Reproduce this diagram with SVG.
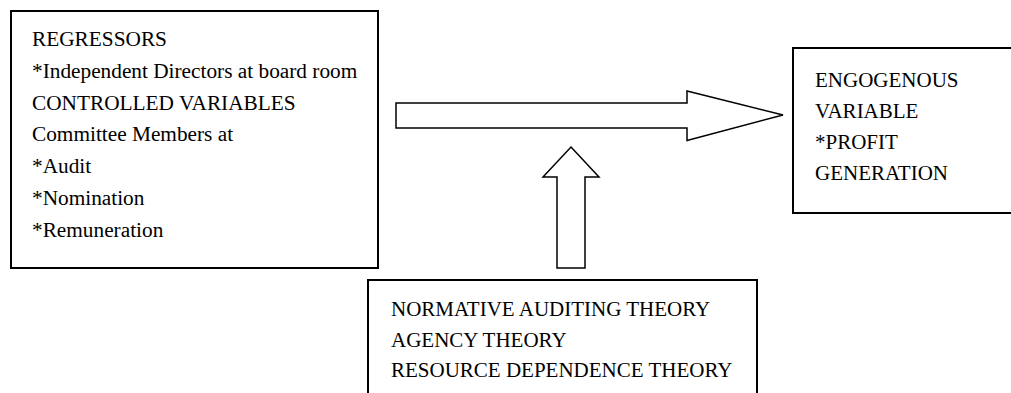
<svg xmlns="http://www.w3.org/2000/svg" width="1011" height="393" viewBox="0 0 1011 393">
<style>
.box{fill:#fff;stroke:#000;stroke-width:2}
.arr{fill:#fff;stroke:#000;stroke-width:1.5;stroke-linejoin:miter}
.t{font-family:'Liberation Serif','Times New Roman',Times,'DejaVu Serif',serif;font-size:21px;fill:#000}
.big{font-size:21.3px}
</style>
<rect width="1011" height="393" fill="#fff"/>
<g id="regressors" class="t big">
<rect class="box" x="11" y="11" width="367" height="257"/>
<text x="32" y="46">REGRESSORS</text>
<text x="32" y="78">*Independent Directors at board room</text>
<text x="32" y="110">CONTROLLED VARIABLES</text>
<text x="32" y="141">Committee Members at</text>
<text x="32" y="173">*Audit</text>
<text x="32" y="205">*Nomination</text>
<text x="32" y="237">*Remuneration</text>
</g>
<g id="endogenous" class="t">
<rect class="box" x="793" y="48" width="240" height="165"/>
<text x="815" y="87">ENGOGENOUS</text>
<text x="815" y="118">VARIABLE</text>
<text x="815" y="149">*PROFIT</text>
<text x="815" y="180">GENERATION</text>
</g>
<g id="theories" class="t">
<rect class="box" x="368" y="280" width="389" height="140"/>
<text x="391" y="316">NORMATIVE AUDITING THEORY</text>
<text x="391" y="347">AGENCY THEORY</text>
<text x="391" y="377">RESOURCE DEPENDENCE THEORY</text>
</g>
<g id="connectors">
<polygon class="arr" points="396,103 687,103 687,91 783,115 687,140.5 687,128 396,128"/>
<polygon class="arr" points="571,147 599,177 585,177 585,268 557,268 557,177 543,177"/>
</g>
</svg>
